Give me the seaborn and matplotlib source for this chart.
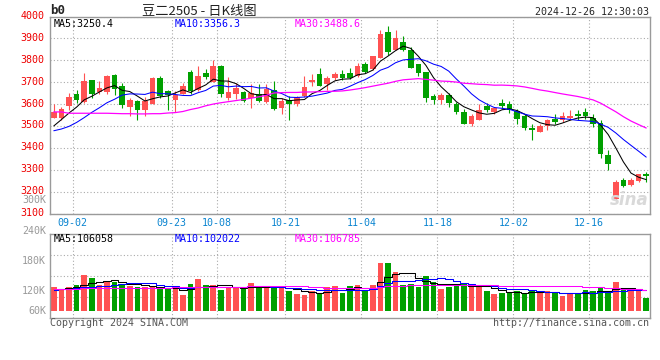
import numpy as np
import pandas as pd
import matplotlib
matplotlib.use('Agg')
import matplotlib.pyplot as plt
import matplotlib.transforms as mtransforms
import seaborn as sns

# trading days on the chart (08-29 .. 12-26, exchange holidays removed)
holidays = ['2024-09-16', '2024-09-17', '2024-10-01', '2024-10-02',
            '2024-10-03', '2024-10-04', '2024-10-07']
dates = pd.bdate_range('2024-08-29', '2024-12-26').drop(pd.to_datetime(holidays))

open_ = [3538, 3538, 3590, 3647, 3608, 3711, 3657, 3657, 3733, 3684,
         3586, 3614, 3574, 3599, 3717, 3660, 3620, 3647, 3748, 3663,
         3743, 3700, 3772, 3629, 3647, 3656, 3626, 3647, 3611, 3663,
         3583, 3617, 3599, 3638, 3699, 3736, 3690, 3717, 3739, 3742,
         3726, 3784, 3760, 3809, 3927, 3845, 3885, 3845, 3781, 3745,
         3638, 3617, 3641, 3599, 3565, 3510, 3529, 3590, 3562, 3605,
         3602, 3568, 3544, 3492, 3472, 3498, 3532, 3529, 3535, 3556,
         3562, 3535, 3513, 3366, 3165, 3252, 3229, 3249, 3282]
high = [3600, 3586, 3650, 3663, 3742, 3711, 3705, 3733, 3739, 3696,
        3626, 3620, 3632, 3723, 3726, 3663, 3660, 3696, 3757, 3775,
        3762, 3803, 3777, 3723, 3696, 3660, 3693, 3690, 3690, 3705,
        3626, 3638, 3638, 3726, 3736, 3763, 3726, 3745, 3757, 3766,
        3787, 3793, 3821, 3937, 3955, 3937, 3909, 3860, 3781, 3745,
        3644, 3650, 3650, 3608, 3577, 3556, 3602, 3605, 3583, 3625,
        3614, 3579, 3553, 3510, 3507, 3533, 3556, 3565, 3571, 3574,
        3583, 3556, 3526, 3389, 3255, 3264, 3264, 3282, 3288]
low = [3535, 3529, 3571, 3605, 3605, 3626, 3647, 3647, 3641, 3583,
       3547, 3526, 3547, 3599, 3626, 3574, 3565, 3647, 3647, 3660,
       3716, 3700, 3632, 3620, 3623, 3608, 3583, 3611, 3605, 3574,
       3553, 3529, 3590, 3632, 3684, 3684, 3663, 3711, 3711, 3716,
       3723, 3742, 3757, 3809, 3824, 3845, 3842, 3763, 3730, 3608,
       3602, 3599, 3586, 3553, 3507, 3498, 3526, 3562, 3556, 3579,
       3559, 3510, 3483, 3434, 3472, 3480, 3510, 3518, 3526, 3529,
       3532, 3495, 3355, 3300, 3157, 3221, 3224, 3246, 3243]
close = [3565, 3577, 3632, 3617, 3705, 3647, 3675, 3726, 3669, 3596,
         3620, 3571, 3614, 3720, 3638, 3641, 3641, 3684, 3660, 3730,
         3722, 3772, 3644, 3656, 3672, 3614, 3650, 3614, 3669, 3577,
         3614, 3602, 3632, 3678, 3711, 3684, 3720, 3736, 3717, 3720,
         3775, 3745, 3818, 3921, 3836, 3900, 3848, 3766, 3742, 3626,
         3620, 3641, 3605, 3562, 3510, 3547, 3574, 3574, 3583, 3590,
         3571, 3533, 3492, 3480, 3498, 3526, 3520, 3544, 3544, 3547,
         3547, 3507, 3373, 3328, 3243, 3227, 3252, 3279, 3273]
volume = [115500, 108500, 114700, 120200, 143700, 136600, 121000, 130400, 127300, 119400,
          117900, 116300, 116300, 114700, 113200, 111600, 110000, 96800, 122600, 134300,
          120200, 120200, 108500, 114700, 114700, 111600, 124900, 114700, 113200, 117900,
          113200, 106900, 99100, 96800, 106100, 100700, 116300, 118700, 101400, 117900,
          120200, 108500, 120200, 172600, 172600, 151500, 120200, 123300, 114700, 142100,
          127300, 111600, 114700, 121800, 124900, 118700, 114700, 106900, 99100, 102200,
          102200, 106900, 100700, 106900, 102200, 106900, 100700, 94400, 99100, 102200,
          108500, 105400, 114700, 102200, 127300, 113200, 108500, 108500, 89700]

# moving averages before enough history is on screen
ma5_head = [3500, 3529, 3559, 3586]
ma10_head = [3478, 3486, 3498, 3516, 3538, 3562, 3583, 3606, 3622]
ma30_head = [3564, 3564, 3558, 3558, 3558, 3558, 3558, 3558, 3557, 3556,
             3556, 3555, 3555, 3556, 3556, 3559, 3561, 3566, 3575, 3582,
             3592, 3600, 3606, 3611, 3616, 3621, 3627, 3633, 3640]
vma5_head = [107700, 110800, 114000, 116300]
vma10_head = [108500, 110000, 111600, 113200, 114700, 116300, 117900, 118700, 119400]
vma30_head = [111600, 111600, 111800, 112000, 112200, 112400, 112600, 112800, 113000, 113200,
              113400, 113600, 113800, 114000, 114200, 114400, 114600, 114800, 115000, 115200,
              115400, 115600, 115800, 116000, 116300, 116600, 116900, 117200, 117600]

tick_dates = ['09-02', '09-23', '10-08', '10-21', '11-04', '11-18', '12-02', '12-16']
price_ticks = [3100, 3200, 3300, 3400, 3500, 3600, 3700, 3800, 3900, 4000]
vol_labels = ['240K', '180K', '120K', '60K']

RED = '#ff5252'
GREEN = '#00a000'
MONO = 'DejaVu Sans Mono'

sns.set_style('white')
plt.rcParams['font.family'] = ['DejaVu Sans Mono', 'Noto Sans CJK SC']


def ma(values, head):
    n = len(head) + 1
    rolled = pd.Series(values, dtype=float).rolling(n).mean().values
    return np.concatenate([head, rolled[n - 1:]])


x = np.arange(len(dates))
o, h, l, c = map(np.array, (open_, high, low, close))
vol = np.array(volume)
colors = np.where(c >= o, RED, GREEN)

W, H = 660, 360
fig = plt.figure(figsize=(W / 100, H / 100), dpi=100)


def px(xp, yp):
    return xp / W, 1 - yp / H


left, right = 50 / W, 650 / W
ax = fig.add_axes([left, 1 - 213.5 / H, right - left, (213.5 - 16.5) / H])
axv = fig.add_axes([left, 1 - 318 / H, right - left, (318 - 234) / H])

labels = dates.strftime('%m-%d')
tick_pos = [list(labels).index(d) + 0.5 for d in tick_dates]

# candles
ax.vlines(x, l, h, colors=colors, lw=0.8)
body = np.maximum(np.abs(c - o), 4)
ax.bar(x, body, bottom=np.minimum(o, c), width=0.74, color=colors, lw=0)

sns.lineplot(x=x, y=ma(close, ma5_head), ax=ax, color='black', lw=0.75, estimator=None)
sns.lineplot(x=x, y=ma(close, ma10_head), ax=ax, color='#0000ff', lw=0.75, estimator=None)
sns.lineplot(x=x, y=ma(close, ma30_head), ax=ax, color='#ff00ff', lw=0.9, estimator=None)

ax.set_xlim(-0.5, len(x) - 0.5)
ax.set_ylim(3100, 4000)
ax.set_yticks(price_ticks)
ax.set_xticks(tick_pos)
ax.set_xticklabels(tick_dates)
ax.tick_params(axis='x', length=0, pad=3, labelsize=7.2, labelcolor='#0a84d0')
ax.tick_params(axis='y', length=0, pad=4, labelsize=7.2, labelcolor='#ee0000')
off = mtransforms.ScaledTranslation(0, 1.5 / 100, fig.dpi_scale_trans)
for t in ax.get_yticklabels():
    t.set_transform(t.get_transform() + off)

# volume
axv.bar(x, vol - 60000, bottom=60000, width=0.74, color=colors, lw=0)
sns.lineplot(x=x, y=ma(volume, vma5_head), ax=axv, color='black', lw=0.75,
             estimator=None, drawstyle='steps-mid')
sns.lineplot(x=x, y=ma(volume, vma10_head), ax=axv, color='#0000ff', lw=0.75,
             estimator=None, drawstyle='steps-mid')
sns.lineplot(x=x, y=ma(volume, vma30_head), ax=axv, color='#ff00ff', lw=0.75,
             estimator=None, drawstyle='steps-mid')
vlo, vhi = 42900, 240000
axv.set_xlim(-0.5, len(x) - 0.5)
axv.set_ylim(vlo, vhi)
axv.set_yticks(np.linspace(vlo, vhi, 5)[1:4])
axv.set_xticks(tick_pos)
axv.tick_params(length=0, labelleft=False, labelbottom=False)

for a in (ax, axv):
    a.grid(True, ls=(0, (1, 2)), color='#aaaaaa', lw=0.8)
    a.set_axisbelow(True)
    a.set_xlabel('')
    a.set_ylabel('')
    for s in a.spines.values():
        s.set_color('#9a9a9a')
        s.set_linewidth(1.0)

# texts
fig.text(*px(50, 11), 'b0', fontsize=9, fontweight='bold', family=MONO, va='center')
fig.text(*px(142, 11), '豆二2505 - 日K线图', fontsize=9.5, color='#222222',
         family=['Noto Sans CJK SC', 'DejaVu Sans'], va='center')
fig.text(*px(649, 12), '2024-12-26 12:30:03', fontsize=7.2, family=MONO,
         ha='right', va='center')

for xp, yp, s, col in [(54, 24, 'MA5:3250.4', 'black'),
                       (175, 24, 'MA10:3356.3', '#0000ff'),
                       (295, 24, 'MA30:3488.6', '#ff00ff'),
                       (54, 238.5, 'MA5:106058', 'black'),
                       (175, 238.5, 'MA10:102022', '#0000ff'),
                       (295, 238.5, 'MA30:106785', '#ff00ff')]:
    fig.text(*px(xp, yp), s, fontsize=7.2, family=MONO, color=col, va='center')

fig.text(*px(46, 200), '300K', fontsize=7.2, family=MONO, color='#999999',
         ha='right', va='center')
for yp, s in zip([231, 261.5, 290.5, 310.5], vol_labels):
    fig.text(*px(46, yp), s, fontsize=7.2, family=MONO, color='#999999',
             ha='right', va='center')

fig.text(*px(50, 323.5), 'Copyright 2024 SINA.COM', fontsize=7.2, family=MONO,
         color='#555555', va='center')
fig.text(*px(649, 323.5), 'http://finance.sina.com.cn', fontsize=7.2, family=MONO,
         color='#555555', ha='right', va='center')

# sina watermark
fig.text(*px(629, 200), 'sina', fontsize=12, fontweight='bold', style='italic',
         color='#d9d9d9', ha='center', va='center', family='DejaVu Sans')

fig.savefig('out.png', dpi=100)
